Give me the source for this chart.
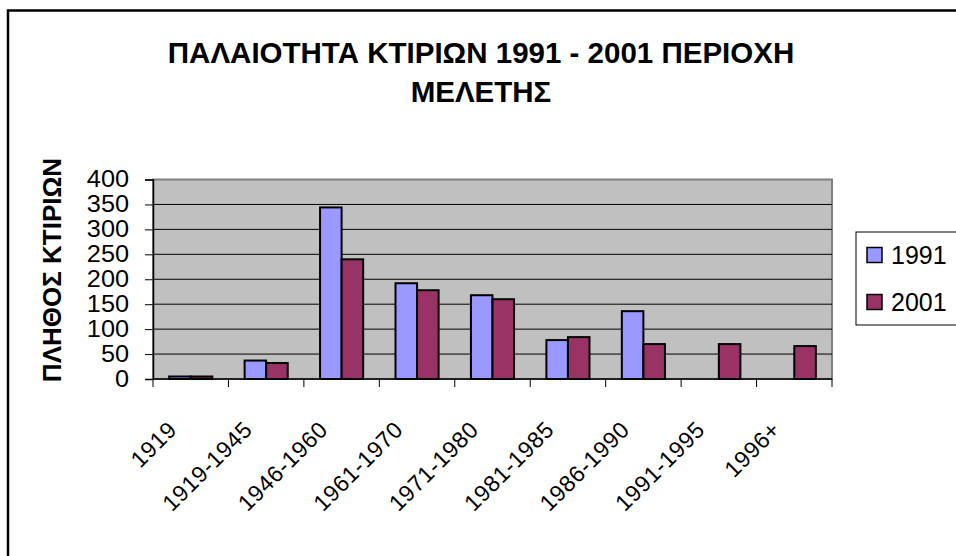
<!DOCTYPE html>
<html>
<head>
<meta charset="utf-8">
<script src="https://cdn.jsdelivr.net/npm/d3@7"></script>
<style>
  body { margin: 0; background: #fff; }
  text { font-family: Arial, "Liberation Sans", sans-serif; }
</style>
</head>
<body>
<div id="chart"></div>
<script>
// Data
var categories = ["1919", "1919-1945", "1946-1960", "1961-1970", "1971-1980",
  "1981-1985", "1986-1990", "1991-1995", "1996+"];
var seriesNames = ["1991", "2001"];
var values1991 = [5, 37, 344, 192, 168, 78, 136, null, null];
var values2001 = [5, 32, 240, 178, 160, 84, 70, 70, 66];
var yTicks = [0, 50, 100, 150, 200, 250, 300, 350, 400];
var colors = ["#9999FF", "#993366"];

var width = 956;
var height = 556;

// Plot area
var plotLeft = 153;
var plotRight = 832;
var plotTop = 179.5;
var plotBottom = 379;

var svg = d3
  .select("#chart")
  .append("svg")
  .attr("width", width)
  .attr("height", height);

// Outer chart frame
svg
  .append("rect")
  .attr("x", 8)
  .attr("y", 10.5)
  .attr("width", 980)
  .attr("height", 600)
  .attr("fill", "#fff")
  .attr("stroke", "#000")
  .attr("stroke-width", 2.5);

// Title
svg
  .append("text")
  .attr("x", 481)
  .attr("y", 63)
  .attr("text-anchor", "middle")
  .attr("font-size", 29.5)
  .attr("font-weight", "bold")
  .text("ΠΑΛΑΙΟΤΗΤΑ ΚΤΙΡΙΩΝ 1991 - 2001 ΠΕΡΙΟΧΗ");
svg
  .append("text")
  .attr("x", 481)
  .attr("y", 101.5)
  .attr("text-anchor", "middle")
  .attr("font-size", 29.5)
  .attr("font-weight", "bold")
  .text("ΜΕΛΕΤΗΣ");

// Scales
var x0 = d3
  .scaleBand()
  .domain(categories)
  .range([plotLeft, plotRight])
  .padding(0);

var x1 = d3
  .scaleBand()
  .domain(seriesNames)
  .range([0, x0.bandwidth()])
  .paddingInner(0)
  .paddingOuter(0.75);

var yScale = d3
  .scaleLinear()
  .domain([0, 400])
  .range([plotBottom, plotTop]);

// Plot background
svg
  .append("rect")
  .attr("x", plotLeft)
  .attr("y", plotTop)
  .attr("width", plotRight - plotLeft)
  .attr("height", plotBottom - plotTop)
  .attr("fill", "#C0C0C0")
  .attr("stroke", "#808080")
  .attr("stroke-width", 2);

// Gridlines
svg
  .append("g")
  .selectAll("line")
  .data(yTicks.filter(function(d) { return d > 0 && d < 400; }))
  .enter()
  .append("line")
  .attr("x1", plotLeft)
  .attr("x2", plotRight)
  .attr("y1", function(d) { return yScale(d); })
  .attr("y2", function(d) { return yScale(d); })
  .attr("stroke", "#000")
  .attr("stroke-width", 1);

// Bars
var rows = categories.map(function(c, i) {
  return { cat: c, vals: [values1991[i], values2001[i]] };
});

var groups = svg
  .append("g")
  .selectAll("g")
  .data(rows)
  .enter()
  .append("g")
  .attr("transform", function(d) {
    return "translate(" + x0(d.cat) + ",0)";
  });

groups
  .selectAll("rect")
  .data(function(d) {
    return d.vals.map(function(v, j) {
      return { name: seriesNames[j], value: v, color: colors[j] };
    }).filter(function(e) { return e.value !== null; });
  })
  .enter()
  .append("rect")
  .attr("x", function(d) { return x1(d.name); })
  .attr("y", function(d) { return yScale(d.value); })
  .attr("width", x1.bandwidth())
  .attr("height", function(d) { return plotBottom - yScale(d.value); })
  .attr("fill", function(d) { return d.color; })
  .attr("stroke", "#000")
  .attr("stroke-width", 2);

// Y axis
var yAxis = d3
  .axisLeft(yScale)
  .tickValues(yTicks)
  .tickSize(8)
  .tickPadding(16);

var yAxisG = svg
  .append("g")
  .attr("transform", "translate(" + plotLeft + ",0)")
  .call(yAxis);
yAxisG.select(".domain").attr("stroke", "#000").attr("stroke-width", 1.5);
yAxisG.selectAll(".tick line").attr("stroke", "#000");
yAxisG
  .selectAll(".tick text")
  .attr("font-size", 23)
  .attr("transform", "scale(1.1,1)")
  .attr("font-family", "Arial, 'Liberation Sans', sans-serif")
  .attr("fill", "#000");
yAxisG.selectAll(".tick text").attr("x", -24 / 1.1);

// X axis baseline and ticks at category boundaries
svg
  .append("line")
  .attr("x1", plotLeft)
  .attr("x2", plotRight)
  .attr("y1", plotBottom)
  .attr("y2", plotBottom)
  .attr("stroke", "#000")
  .attr("stroke-width", 1.5);

var boundaries = categories.map(function(c) { return x0(c); }).concat([plotRight]);
svg
  .append("g")
  .selectAll("line")
  .data(boundaries)
  .enter()
  .append("line")
  .attr("x1", function(d) { return d; })
  .attr("x2", function(d) { return d; })
  .attr("y1", plotBottom)
  .attr("y2", plotBottom + 8)
  .attr("stroke", "#000")
  .attr("stroke-width", 1);

// X labels, rotated
svg
  .append("g")
  .selectAll("text")
  .data(categories)
  .enter()
  .append("text")
  .attr("transform", function(d) {
    var cx = x0(d) + x0.bandwidth() / 2 - 12.5;
    return "translate(" + cx + ",431)rotate(-45)";
  })
  .attr("text-anchor", "end")
  .attr("font-size", 23)
  .attr("letter-spacing", 0.6)
  .text(function(d) { return d; });

// Y axis title
svg
  .append("text")
  .attr("transform", "translate(61,270)rotate(-90)")
  .attr("text-anchor", "middle")
  .attr("font-size", 26)
  .attr("font-weight", "bold")
  .text("ΠΛΗΘΟΣ ΚΤΙΡΙΩΝ");

// Legend
var legend = svg.append("g");
legend
  .append("rect")
  .attr("x", 856)
  .attr("y", 232)
  .attr("width", 110)
  .attr("height", 93)
  .attr("fill", "#fff")
  .attr("stroke", "#000")
  .attr("stroke-width", 1);

var legendY = [255, 302];
seriesNames.forEach(function(name, i) {
  legend
    .append("rect")
    .attr("x", 867)
    .attr("y", legendY[i] - 7.5)
    .attr("width", 15)
    .attr("height", 15)
    .attr("fill", colors[i])
    .attr("stroke", "#000")
    .attr("stroke-width", 1.5);
  legend
    .append("text")
    .attr("x", 891)
    .attr("y", legendY[i])
    .attr("dy", "0.36em")
    .attr("font-size", 25)
    .text(name);
});
</script>
</body>
</html>
